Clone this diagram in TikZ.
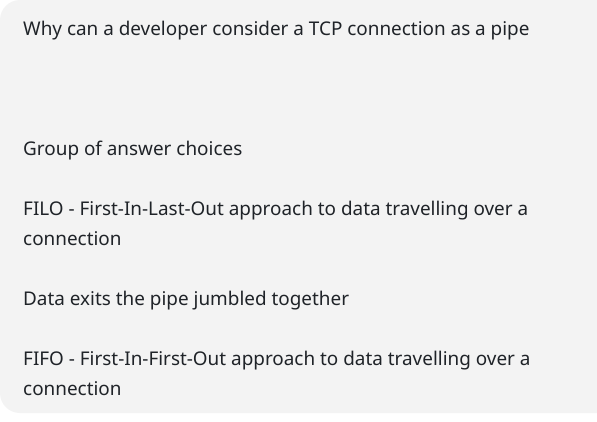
\documentclass[tikz,border=0pt]{standalone}
\usepackage{fontspec}
\setmainfont{Noto Sans}
\definecolor{bg}{HTML}{F3F3F3}
\definecolor{txt}{HTML}{1F2328}
\begin{document}
\begin{tikzpicture}[x=1pt,y=-1pt,
  line/.style={anchor=base west,inner sep=0pt,text=txt,font=\fontsize{18.9}{22}\selectfont}]
\useasboundingbox (0,0) rectangle (597,421);
\fill[white] (0,0) rectangle (597,421);
\fill[bg] (597,0) [rounded corners=20pt] -- (0,0) -- (0,413) [sharp corners] -- (597,413) -- cycle;
\node[line] (q) at (23,35) {Why can a developer consider a TCP connection as a pipe};
\node[line] (g) at (23,155) {Group of answer choices};
\node[line] (a1) at (23,215) {FILO - First-In-Last-Out approach to data travelling over a};
\node[line] (a1b) at (23,245) {connection};
\node[line] (a2) at (23,305) {Data exits the pipe jumbled together};
\node[line] (a3) at (23,365) {FIFO - First-In-First-Out approach to data travelling over a};
\node[line] (a3b) at (23,395) {connection};
\end{tikzpicture}
\end{document}
